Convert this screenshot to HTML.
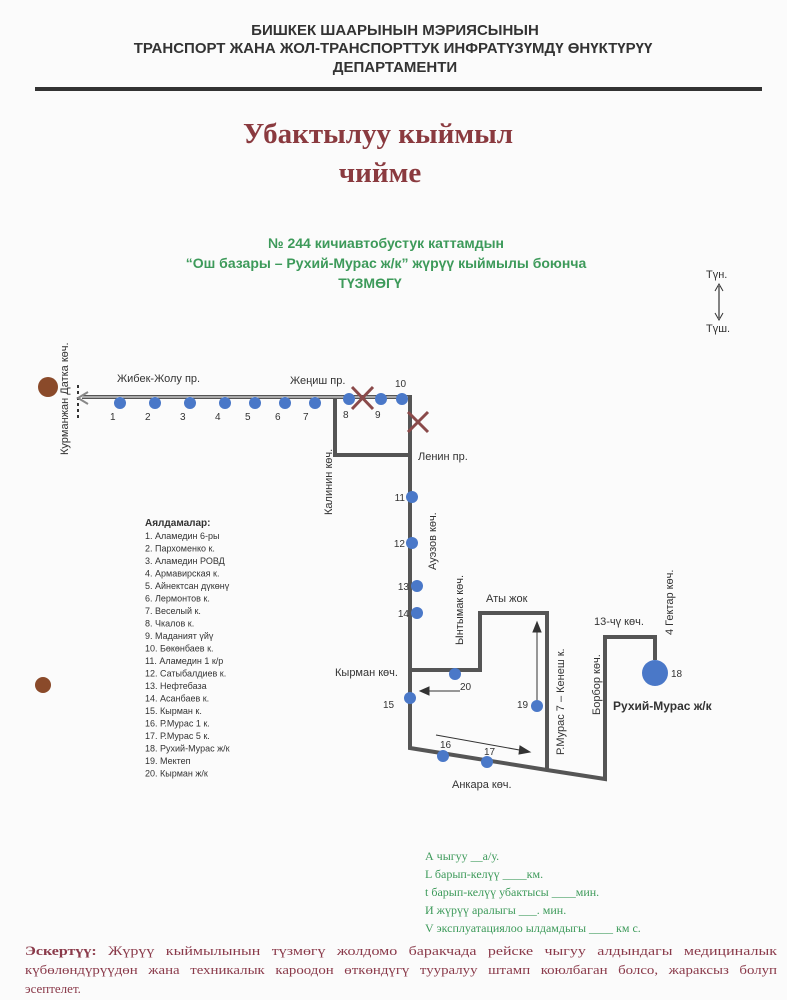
<!DOCTYPE html>
<html><head><meta charset="utf-8"><style>
html,body{margin:0;padding:0;background:#fbfbfb;}
svg{display:block;}
</style></head><body>
<svg width="787" height="1000" viewBox="0 0 787 1000" xmlns="http://www.w3.org/2000/svg" font-family="Liberation Sans, sans-serif">
<rect width="787" height="1000" fill="#fbfbfb"/>
<g font-weight="bold" fill="#333" text-anchor="middle" font-size="15">
<text x="395" y="35">БИШКЕК ШААРЫНЫН  МЭРИЯСЫНЫН</text>
<text x="393" y="53">ТРАНСПОРТ ЖАНА ЖОЛ-ТРАНСПОРТТУК ИНФРАТҮЗҮМДҮ ӨНҮКТҮРҮҮ</text>
<text x="395" y="72">ДЕПАРТАМЕНТИ</text>
</g>
<rect x="35" y="87" width="727" height="4" fill="#333"/>
<g font-family="Liberation Serif, serif" font-weight="bold" fill="#8a3a3f" text-anchor="middle" font-size="29">
<text x="378" y="143">Убактылуу кыймыл</text>
<text x="380" y="182">чийме</text>
</g>
<g font-weight="bold" fill="#3d9a5a" font-size="14" text-anchor="middle">
<text x="386" y="248">№ 244 кичиавтобустук каттамдын</text>
<text x="386" y="268">“Ош базары – Рухий-Мурас ж/к” жүрүү кыймылы боюнча</text>
<text x="370" y="288">ТҮЗМӨГҮ</text>
</g>
<g font-size="11" fill="#333">
<text x="706" y="278">Түн.</text><text x="706" y="332">Түш.</text>
<line x1="719" y1="286" x2="719" y2="318" stroke="#333" stroke-width="1.2"/>
<path d="M715 291 L719 284 L723 291 M715 313 L719 320 L723 313" fill="none" stroke="#333"/>
</g>
<g fill="none" stroke="#555" stroke-width="4" stroke-linejoin="miter">
<polyline points="82,397 410,397 410,748 547,770 605,779 605,637 655,637 655,660"/>
<polyline points="335,397 335,455 410,455"/>
<polyline points="410,670 480,670 480,613 547,613 547,770"/>
</g>
<g stroke="#fff" stroke-width="1" fill="none"><polyline points="82,397 408,397"/></g>
<circle cx="48" cy="387" r="10" fill="#8a4a2a"/>
<circle cx="43" cy="685" r="8" fill="#8a4a2a"/>
<line x1="78" y1="385" x2="78" y2="420" stroke="#333" stroke-width="2" stroke-dasharray="3,3"/>
<path d="M88 392 L78 398 L88 404" fill="none" stroke="#888" stroke-width="2"/>
<text transform="translate(68,455) rotate(-90)" font-size="11" fill="#333">Курманжан Датка көч.</text>
<g font-size="11" fill="#333">
<text x="117" y="382">Жибек-Жолу пр.</text>
<text x="290" y="384">Жеңиш пр.</text>
<text x="395" y="387" font-size="10">10</text>
<text x="418" y="460">Ленин пр.</text>
<text transform="translate(332,515) rotate(-90)">Калинин көч.</text>
<text transform="translate(436,570) rotate(-90)">Ауэзов көч.</text>
<text transform="translate(463,645) rotate(-90)">Ынтымак көч.</text>
<text x="486" y="602">Аты жок</text>
<text transform="translate(564,755) rotate(-90)">Р.Мурас 7 – Кенеш к.</text>
<text transform="translate(600,715) rotate(-90)">Борбор көч.</text>
<text x="594" y="625">13-чү көч.</text>
<text transform="translate(673,635) rotate(-90)">4 Гектар көч.</text>
<text x="335" y="676">Кырман көч.</text>
<text x="452" y="788">Анкара көч.</text>
<text x="613" y="710" font-weight="bold" font-size="12">Рухий-Мурас ж/к</text>
</g>
<g fill="#4a78c8">
<circle cx="120" cy="403" r="6"/><circle cx="155" cy="403" r="6"/><circle cx="190" cy="403" r="6"/><circle cx="225" cy="403" r="6"/><circle cx="255" cy="403" r="6"/><circle cx="285" cy="403" r="6"/><circle cx="315" cy="403" r="6"/>
<circle cx="349" cy="399" r="6"/><circle cx="381" cy="399" r="6"/><circle cx="402" cy="399" r="6"/>
<circle cx="412" cy="497" r="6"/><circle cx="412" cy="543" r="6"/><circle cx="417" cy="586" r="6"/><circle cx="417" cy="613" r="6"/>
<circle cx="410" cy="698" r="6"/><circle cx="455" cy="674" r="6"/><circle cx="443" cy="756" r="6"/><circle cx="487" cy="762" r="6"/><circle cx="537" cy="706" r="6"/>
<circle cx="655" cy="673" r="13"/>
</g>
<g font-size="10" fill="#333">
<text x="110" y="420">1</text><text x="145" y="420">2</text><text x="180" y="420">3</text><text x="215" y="420">4</text><text x="245" y="420">5</text><text x="275" y="420">6</text><text x="303" y="420">7</text>
<text x="343" y="418">8</text><text x="375" y="418">9</text>
<g text-anchor="end"><text x="405" y="501">11</text><text x="405" y="547">12</text><text x="409" y="590">13</text><text x="409" y="617">14</text></g>
<text x="383" y="708">15</text><text x="460" y="690">20</text><text x="440" y="748">16</text><text x="484" y="755">17</text><text x="517" y="708">19</text><text x="671" y="677">18</text>
</g>
<g stroke="#8a4a4a" stroke-width="3">
<line x1="352" y1="387" x2="373" y2="409"/><line x1="373" y1="387" x2="352" y2="409"/>
<line x1="408" y1="412" x2="428" y2="432"/><line x1="428" y1="412" x2="408" y2="432"/>
</g>
<g stroke="#333" stroke-width="1" fill="#333">
<line x1="460" y1="691" x2="425" y2="691"/><path d="M420 691 L429 687 L429 695Z"/>
<line x1="537" y1="700" x2="537" y2="628"/><path d="M537 622 L533 632 L541 632Z"/>
<line x1="436" y1="735" x2="525" y2="751"/><path d="M530 752 L520 746 L519 754Z"/>
</g>
<g font-size="9" fill="#333">
<text x="145" y="526" font-weight="bold" font-size="10">Аялдамалар:</text>
<text x="145" y="539">1. Аламедин 6-ры</text>
<text x="145" y="551.5">2. Пархоменко к.</text>
<text x="145" y="564">3. Аламедин РОВД</text>
<text x="145" y="576.5">4. Армавирская к.</text>
<text x="145" y="589">5. Айнектсан дүкөнү</text>
<text x="145" y="601.5">6. Лермонтов к.</text>
<text x="145" y="614">7. Веселый к.</text>
<text x="145" y="626.5">8. Чкалов к.</text>
<text x="145" y="639">9. Маданият үйү</text>
<text x="145" y="651.5">10. Бөкөнбаев к.</text>
<text x="145" y="664">11. Аламедин 1 к/р</text>
<text x="145" y="676.5">12. Сатыбалдиев к.</text>
<text x="145" y="689">13. Нефтебаза</text>
<text x="145" y="701.5">14. Асанбаев к.</text>
<text x="145" y="714">15. Кырман к.</text>
<text x="145" y="726.5">16. Р.Мурас 1 к.</text>
<text x="145" y="739">17. Р.Мурас 5 к.</text>
<text x="145" y="751.5">18. Рухий-Мурас ж/к</text>
<text x="145" y="764">19. Мектеп</text>
<text x="145" y="776.5">20. Кырман ж/к</text>
</g>
<g font-family="Liberation Serif, serif" font-size="12" fill="#3d9a5a">
<text x="425" y="860">А чыгуу  __а/у.</text>
<text x="425" y="878">L барып-келүү  ____км.</text>
<text x="425" y="896">t барып-келүү убактысы ____мин.</text>
<text x="425" y="914">И жүрүү аралыгы  ___.  мин.</text>
<text x="425" y="932">V эксплуатациялоо ылдамдыгы ____ км с.</text>
</g>
<g font-family="Liberation Serif, serif" font-size="13" fill="#8a3a4a">
<text x="25" y="955" textLength="752" lengthAdjust="spacingAndGlyphs" word-spacing="6"><tspan font-weight="bold">Эскертүү:</tspan> Жүрүү кыймылынын түзмөгү жолдомо баракчада рейске чыгуу алдындагы медициналык</text>
<text x="25" y="974" textLength="752" lengthAdjust="spacingAndGlyphs" word-spacing="6">күбөлөндүрүүдөн жана техникалык кароодон өткөндүгү тууралуу штамп коюлбаган болсо, жараксыз болуп</text>
<text x="25" y="993">эсептелет.</text>
</g>
</svg>
</body></html>
